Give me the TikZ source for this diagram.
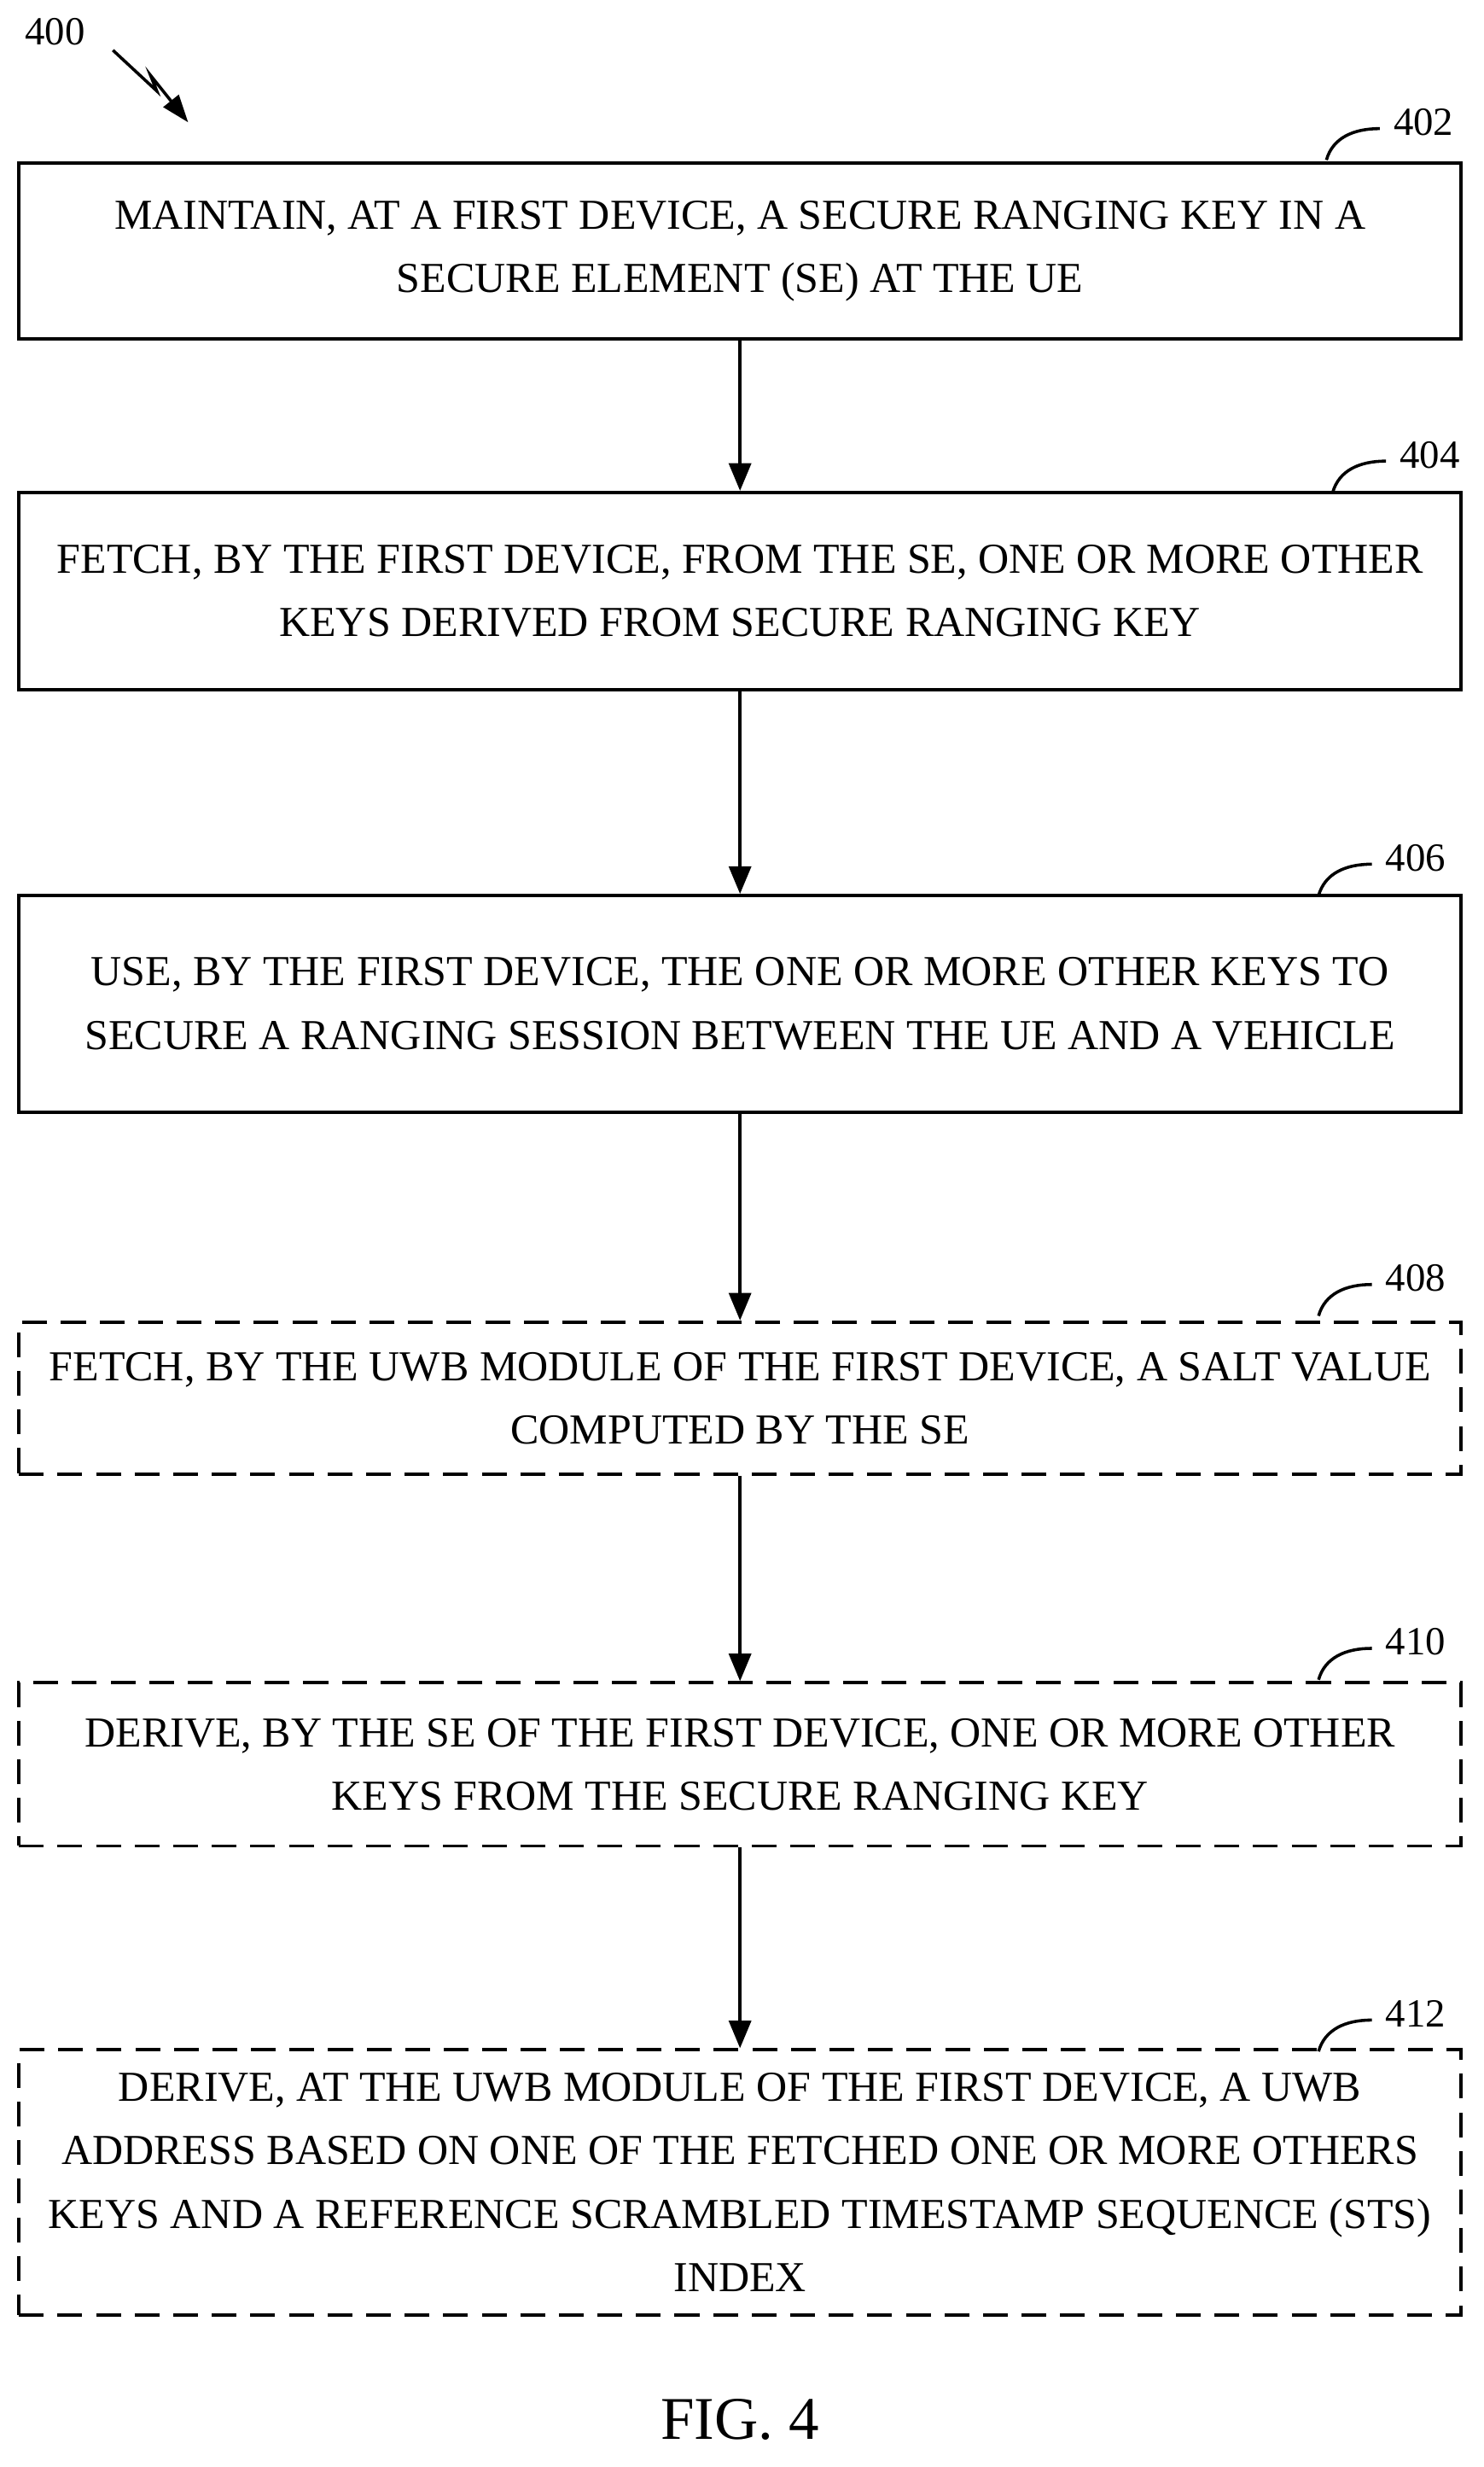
\documentclass[tikz,border=0pt]{standalone}
\usepackage{fontspec}
\setmainfont{Liberation Serif}
\usetikzlibrary{positioning,arrows.meta}

\tikzset{
  stepbox/.style={draw,line width=1.2pt,minimum width=18.4cm,align=center,font=\fontsize{15.5}{23}\selectfont,inner sep=0pt},
  optbox/.style={stepbox,dashed,dash pattern=on 9pt off 5pt},
  flow/.style={-{Triangle[length=10pt,width=8pt]},line width=1.2pt},
  lbl/.style={font=\fontsize{14.5}{16}\selectfont}
}

\begin{document}
\begin{tikzpicture}[x=0.02cm,y=-0.02cm]
\useasboundingbox (0,0) rectangle (946,1573);

% steps
\node[stepbox,minimum height=2.24cm] (s402) at (472,160) {MAINTAIN, AT A FIRST DEVICE, A SECURE RANGING KEY IN A\\SECURE ELEMENT (SE) AT THE UE};
\node[stepbox,minimum height=2.52cm] (s404) at (472,377) {FETCH, BY THE FIRST DEVICE, FROM THE SE, ONE OR MORE OTHER\\KEYS DERIVED FROM SECURE RANGING KEY};
\node[stepbox,minimum height=2.76cm] (s406) at (472,640) {USE, BY THE FIRST DEVICE, THE ONE OR MORE OTHER KEYS TO\\SECURE A RANGING SESSION BETWEEN THE UE AND A VEHICLE};
\node[optbox,minimum height=1.94cm] (s408) at (472,891.5) {FETCH, BY THE UWB MODULE OF THE FIRST DEVICE, A SALT VALUE\\COMPUTED BY THE SE};
\node[optbox,minimum height=2.08cm] (s410) at (472,1125) {DERIVE, BY THE SE OF THE FIRST DEVICE, ONE OR MORE OTHER\\KEYS FROM THE SECURE RANGING KEY};
\node[optbox,minimum height=3.38cm] (s412) at (472,1391.5) {DERIVE, AT THE UWB MODULE OF THE FIRST DEVICE, A UWB\\ADDRESS BASED ON ONE OF THE FETCHED ONE OR MORE OTHERS\\KEYS AND A REFERENCE SCRAMBLED TIMESTAMP SEQUENCE (STS)\\INDEX};

% connectors
\draw[flow] (s402) -- (s404);
\draw[flow] (s404) -- (s406);
\draw[flow] (s406) -- (s408);
\draw[flow] (s408) -- (s410);
\draw[flow] (s410) -- (s412);

% reference numerals
\foreach \n/\x/\y in {402/908/78, 404/912/290, 406/903/547, 408/903/815, 410/903/1047, 412/903/1284}{
  \node[lbl] (n\n) at (\x,\y) {\n};
  \draw[line width=1.1pt] (\x-62,\y+24) .. controls (\x-58,\y+10) and (\x-45,\y+4) .. (\x-28,\y+4);
}

\node[lbl] (n400) at (35,20) {400};
\coordinate (z1) at (72,32);
\coordinate (z2) at (100,58);
\coordinate (z3) at (96,48);
\coordinate (z4) at (120,78);
\draw[line width=1.1pt,-{Triangle[length=10pt,width=7pt]}] (z1) -- (z2) -- (z3) -- (z4);

\node[font=\fontsize{22}{24}\selectfont] (fig) at (472,1543) {FIG. 4};
\end{tikzpicture}
\end{document}
